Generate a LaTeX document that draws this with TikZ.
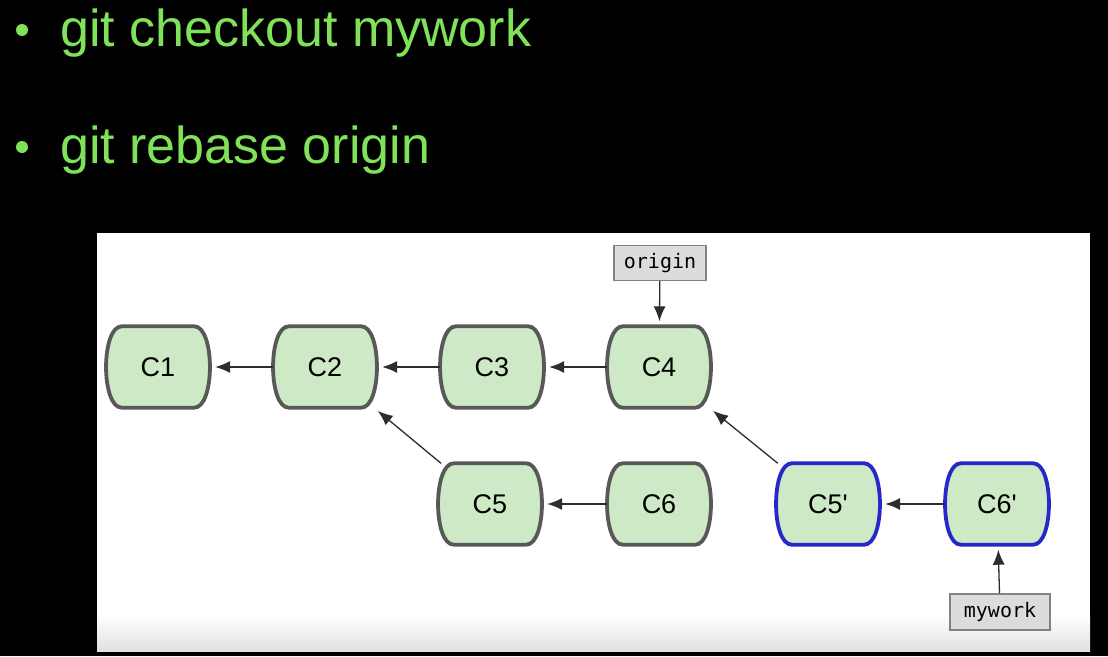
\documentclass[tikz,border=0pt]{standalone}
\usepackage{fontspec}
\setmainfont{Liberation Sans}
\setmonofont{DejaVu Sans Mono}
\usetikzlibrary{arrows.meta}
\definecolor{txtgreen}{RGB}{128,226,88}
\definecolor{cfill}{RGB}{206,233,198}
\definecolor{cgray}{RGB}{88,88,88}
\definecolor{cblue}{RGB}{40,40,200}
\definecolor{lfill}{RGB}{220,220,220}
\definecolor{lborder}{RGB}{130,130,130}
\definecolor{arrowc}{RGB}{45,45,45}
\tikzset{
  commit/.style={minimum width=104pt, minimum height=81pt, inner sep=0pt, font=\fontsize{27}{30}\selectfont},
  outline/.style={line width=3.8pt, draw=cgray, fill=cfill},
  blueoutline/.style={line width=3.8pt, draw=cblue, fill=cfill},
  label/.style={draw=lborder, fill=lfill, line width=1.2pt, inner sep=0pt, font=\ttfamily\fontsize{20}{22}\selectfont},
  link/.style={draw=arrowc, line width=1.3pt, -{Latex[length=15pt,width=12pt]}, shorten >=5pt},
  bullet/.style={circle, fill=txtgreen, inner sep=0pt, minimum size=12pt},
  cmd/.style={anchor=base west, text=txtgreen, inner sep=0pt, font=\fontsize{52}{60}\selectfont}
}
\newcommand{\commitshape}[2]{%
  \path[#2] ([xshift=16pt]#1.north west) -- ([xshift=-16pt]#1.north east)
    .. controls ([xshift=5pt]#1.north east) and ([xshift=5pt]#1.south east) .. ([xshift=-16pt]#1.south east)
    -- ([xshift=16pt]#1.south west)
    .. controls ([xshift=-5pt]#1.south west) and ([xshift=-5pt]#1.north west) .. cycle;}
\begin{document}
\begin{tikzpicture}[x=1pt,y=-1pt]
\useasboundingbox (0,0) rectangle (1108,656);
\fill[black] (0,0) rectangle (1108,656);
\fill[white] (97,233) rectangle (1090,651);
\shade[top color=white, bottom color=black!12] (97,615) rectangle (1090,651);

% commands
\node[bullet] (b1) at (22,30) {};
\node[cmd] (t1) at (60,46) {git checkout mywork};
\node[bullet] (b2) at (22,147) {};
\node[cmd] (t2) at (60,163) {git rebase origin};

% commit nodes (outline positions)
\node[commit] (c1) at (158,367) {};
\node[commit] (c2) at (325,367) {};
\node[commit] (c3) at (492,367) {};
\node[commit] (c4) at (659,367) {};
\node[commit] (c5) at (490,504) {};
\node[commit] (c6) at (659,504) {};
\node[commit] (c5p) at (828,504) {};
\node[commit] (c6p) at (997,504) {};

\foreach \n in {c1,c2,c3,c4,c5,c6} {\commitshape{\n}{outline}}
\foreach \n in {c5p,c6p} {\commitshape{\n}{blueoutline}}

\node[commit] at (c1) {C1};
\node[commit] at (c2) {C2};
\node[commit] at (c3) {C3};
\node[commit] at (c4) {C4};
\node[commit] at (c5) {C5};
\node[commit] at (c6) {C6};
\node[commit] at (c5p) {C5\textquotesingle};
\node[commit] at (c6p) {C6\textquotesingle};

% labels
\node[label, minimum width=92pt, minimum height=35pt] (origin) at (660,263) {origin};
\node[label, minimum width=100pt, minimum height=36pt] (mywork) at (1000,612) {mywork};

% links
\draw[link] (c2) -- (c1);
\draw[link] (c3) -- (c2);
\draw[link] (c4) -- (c3);
\draw[link] (c5) -- (c2);
\draw[link] (c6) -- (c5);
\draw[link] (c5p) -- (c4);
\draw[link] (c6p) -- (c5p);
\draw[link] (origin) -- (c4);
\draw[link] (mywork) -- (c6p);
\end{tikzpicture}
\end{document}
